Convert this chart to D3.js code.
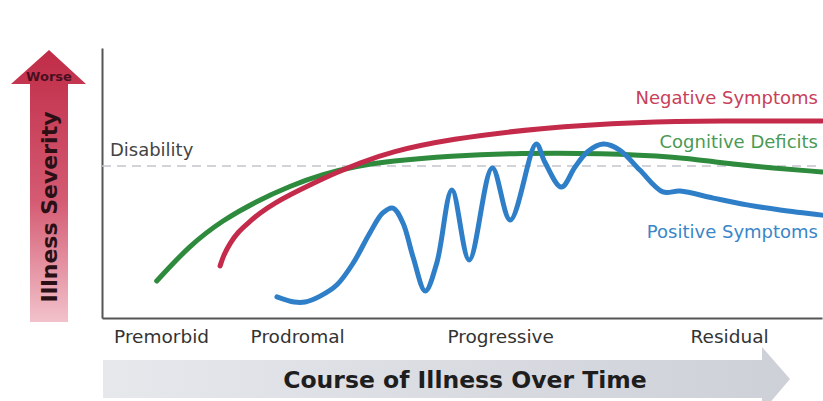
<!DOCTYPE html>
<html>
<head>
<meta charset="utf-8">
<script src="https://cdn.jsdelivr.net/npm/d3@7"></script>
<style>
  html, body { margin: 0; padding: 0; background: #fff; }
  svg { display: block; font-family: "DejaVu Sans", Verdana, sans-serif; }
</style>
</head>
<body>
<svg id="chart" width="823" height="401"></svg>
<script>
// time runs 0..100 left to right, severity 0..100 bottom to top
var stages = ["Premorbid", "Prodromal", "Progressive", "Residual"];
var stagePos = [8.2, 27.1, 55.3, 87.1];

var disabilityLevel = 56.3;

var cognitiveT = [7.6, 12.2, 16.8, 21.5, 26.1, 30.7, 35.4, 40.0, 48.3, 58.1, 69.2, 80.3, 84.9, 91.4, 100];
var cognitiveV = [13.7, 27.0, 36.3, 43.3, 48.9, 53.3, 56.3, 58.1, 60.0, 61.1, 61.1, 59.6, 57.8, 55.9, 54.1];

var negativeT = [16.4, 16.9, 17.8, 18.9, 20.3, 21.9, 24.0, 26.1, 28.9, 32.4, 35.8, 40.0, 48.3, 60.8, 74.7, 85.8, 100];
var negativeV = [19.3, 23.3, 27.8, 31.9, 35.2, 38.9, 42.6, 45.6, 49.3, 53.7, 57.4, 61.5, 66.3, 70.4, 72.6, 73.0, 73.0];

var positiveT = [24.3, 26.7, 28.2, 30.3, 32.6, 34.9, 37.2, 39.0, 40.4, 41.8, 43.2, 44.9, 46.5, 48.6, 51.0, 54.2, 56.7, 60.3, 61.5, 63.8, 65.7, 67.4, 69.6, 71.9, 74.7, 77.9, 80.3, 84.9, 89.6, 94.2, 100];
var positiveV = [7.8, 5.9, 5.9, 8.1, 12.2, 20.4, 31.5, 38.9, 40.7, 35.2, 22.6, 10.0, 20.4, 47.4, 21.5, 55.6, 36.3, 64.4, 57.8, 48.5, 55.9, 61.5, 64.4, 62.2, 54.8, 46.7, 47.0, 44.4, 41.9, 40.0, 38.1];

var svg = d3.select("#chart");
var x = d3.scaleLinear().domain([0, 100]).range([102, 822]);
var y = d3.scaleLinear().domain([0, 100]).range([318, 48]);

var defs = svg.append("defs");
var g1 = defs.append("linearGradient").attr("id", "redArrow")
  .attr("x1", 0).attr("y1", 0).attr("x2", 0).attr("y2", 1);
g1.append("stop").attr("offset", "0%").attr("stop-color", "#c02c47");
g1.append("stop").attr("offset", "55%").attr("stop-color", "#d45a72");
g1.append("stop").attr("offset", "100%").attr("stop-color", "#f2c2cb");
var g2 = defs.append("linearGradient").attr("id", "grayArrow")
  .attr("x1", 0).attr("y1", 0).attr("x2", 1).attr("y2", 0);
g2.append("stop").attr("offset", "0%").attr("stop-color", "#e6e8ec");
g2.append("stop").attr("offset", "100%").attr("stop-color", "#cdd0d7");

// severity arrow
svg.append("path")
  .attr("d", "M49,50 L86,84 L68,84 L68,322 L30,322 L30,84 L11,84 Z")
  .attr("fill", "url(#redArrow)");
svg.append("text").attr("x", 49).attr("y", 81)
  .attr("text-anchor", "middle").attr("font-size", 13).attr("font-weight", "bold")
  .attr("fill", "#4a1020").text("Worse");
svg.append("text")
  .attr("transform", "translate(57,207) rotate(-90)")
  .attr("text-anchor", "middle").attr("font-size", 22).attr("font-weight", "bold")
  .attr("fill", "#2a1015").text("Illness Severity");

// time arrow
svg.append("path")
  .attr("d", "M103,360 L762,360 L762,347 L790,379 L762,412 L762,398 L103,398 Z")
  .attr("fill", "url(#grayArrow)");
svg.append("text").attr("x", 465).attr("y", 388)
  .attr("text-anchor", "middle").attr("font-size", 23.5).attr("font-weight", "bold")
  .attr("fill", "#1e1e1e").text("Course of Illness Over Time");

// axes
var xAxis = svg.append("g").attr("transform", "translate(0," + y(0) + ")")
  .call(d3.axisBottom(x).tickValues(stagePos).tickSize(0).tickPadding(12)
    .tickFormat(function(d, i) { return stages[i]; }));
xAxis.select(".domain").attr("stroke", "#555").attr("stroke-width", 2);
xAxis.selectAll("text").attr("font-size", 18.5).attr("fill", "#333")
  .attr("font-family", "DejaVu Sans, Verdana, sans-serif");

var yAxis = svg.append("g").attr("transform", "translate(" + x(0) + ",0)")
  .call(d3.axisLeft(y).tickValues([]).tickSize(0));
yAxis.select(".domain").attr("stroke", "#555").attr("stroke-width", 2);

// disability threshold
svg.append("line")
  .attr("x1", x(0)).attr("x2", x(100))
  .attr("y1", y(disabilityLevel)).attr("y2", y(disabilityLevel))
  .attr("stroke", "#c4c4cc").attr("stroke-width", 1.5).attr("stroke-dasharray", "9,6");
svg.append("text").attr("x", x(1.1)).attr("y", y(disabilityLevel) - 10)
  .attr("font-size", 18).attr("fill", "#444").text("Disability");

var smooth = d3.line()
  .x(function(d) { return x(d[0]); })
  .y(function(d) { return y(d[1]); })
  .curve(d3.curveBasis);
var wavy = d3.line()
  .x(function(d) { return x(d[0]); })
  .y(function(d) { return y(d[1]); })
  .curve(d3.curveCatmullRom.alpha(0.5));

var series = [
  { name: "Cognitive Deficits", t: cognitiveT, v: cognitiveV, color: "#2e8a3c", label: "#4a9a55", ly: 148, gen: smooth },
  { name: "Negative Symptoms", t: negativeT, v: negativeV, color: "#c42b4b", label: "#c8405a", ly: 104, gen: smooth },
  { name: "Positive Symptoms", t: positiveT, v: positiveV, color: "#2f7fc8", label: "#3a86c8", ly: 238, gen: wavy }
];

svg.selectAll("path.series")
  .data(series)
  .enter().append("path")
  .attr("class", "series")
  .attr("fill", "none")
  .attr("stroke", function(d) { return d.color; })
  .attr("stroke-width", 5)
  .attr("stroke-linecap", "round")
  .attr("d", function(d) { return d.gen(d3.zip(d.t, d.v)); });

svg.selectAll("text.lbl")
  .data(series)
  .enter().append("text")
  .attr("class", "lbl")
  .attr("x", 818)
  .attr("y", function(d) { return d.ly; })
  .attr("text-anchor", "end")
  .attr("font-size", 18)
  .attr("fill", function(d) { return d.label; })
  .text(function(d) { return d.name; });
</script>
</body>
</html>
